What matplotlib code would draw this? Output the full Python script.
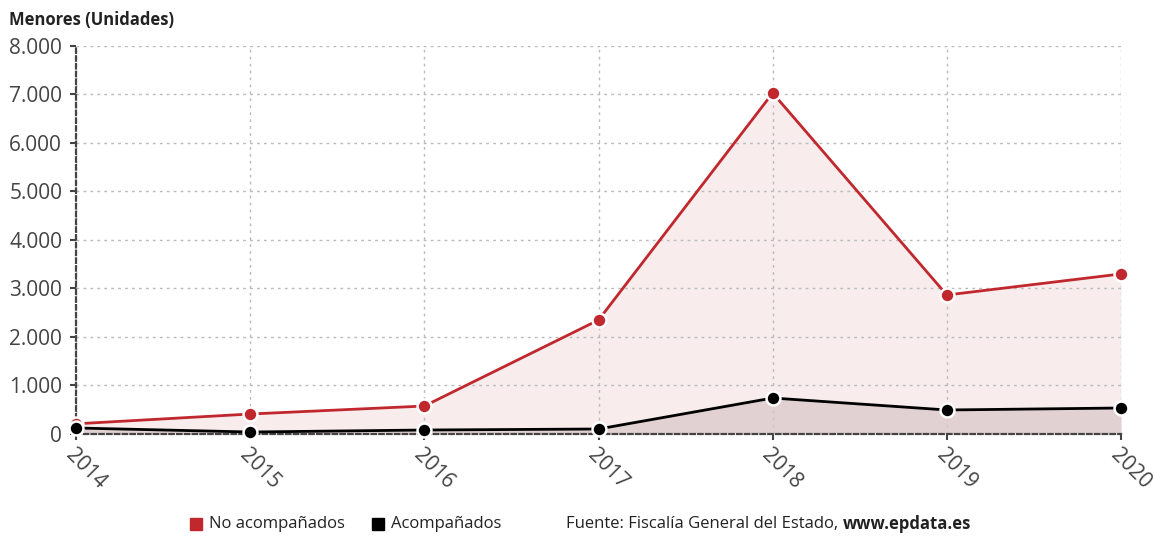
import matplotlib.pyplot as plt
from matplotlib.patches import Rectangle
from matplotlib.ticker import FuncFormatter

plt.rcParams['font.family'] = ['Open Sans', 'DejaVu Sans']

years = [2014, 2015, 2016, 2017, 2018, 2019, 2020]
no_acompanados = [210, 412, 577, 2350, 7030, 2866, 3300]
acompanados = [124, 41, 82, 103, 742, 495, 536]
series_labels = ["No acompañados", "Acompañados"]

RED = "#c0282d"
BLACK = "#000000"
W, H = 1154, 536

fig = plt.figure(figsize=(W / 100, H / 100), dpi=100)
ax = fig.add_axes([0.0659, 0.1903, 0.9055, 0.7239])

# filled areas under each series
ax.fill_between(years, no_acompanados, 0, color="#f6e6e7", alpha=0.75, lw=0, zorder=1)
ax.fill_between(years, acompanados, 0, color="#d9c6c8", alpha=0.7, lw=0, zorder=2)

ax.plot(years, no_acompanados, color=RED, lw=2, marker="o", ms=10,
        mfc=RED, mec="white", mew=1.8, zorder=4, clip_on=False)
ax.plot(years, acompanados, color=BLACK, lw=2, marker="o", ms=10,
        mfc=BLACK, mec="white", mew=1.8, zorder=5, clip_on=False)

ax.set_xlim(2014, 2020)
ax.set_ylim(0, 8000)
ax.set_xticks(years)
ax.set_yticks(range(0, 8001, 1000))
ax.yaxis.set_major_formatter(FuncFormatter(lambda v, p: f"{int(v):,}".replace(",", ".")))

ax.grid(True, color="#bbbbbb", linestyle=(0, (2, 3)), lw=1, zorder=0)
for side in ["top", "right"]:
    ax.spines[side].set_visible(False)
for side in ["left", "bottom"]:
    ax.spines[side].set_color("#444444")
    ax.spines[side].set_linestyle((0, (2, 1.5)))
    ax.spines[side].set_linewidth(1.6)

ax.tick_params(axis="y", labelsize=15, colors="#444444", length=4, width=1.5, pad=6)
ax.tick_params(axis="x", labelsize=15, colors="#444444", length=4, width=1.5, pad=4)
for lbl in ax.get_xticklabels():
    lbl.set_rotation(-45)
    lbl.set_ha("left")
    lbl.set_rotation_mode("anchor")

fig.text(0.008, 0.962, "Menores (Unidades)", fontsize=12, fontweight="bold",
         color="#222222", va="center")

# legend row at the bottom (pixel positions from the reference)
ly = 1 - 524 / H
for x0, col, lab in [(190, RED, series_labels[0]), (372, BLACK, series_labels[1])]:
    fig.patches.append(Rectangle((x0 / W, ly - 6 / H), 12 / W, 12 / H,
                                 transform=fig.transFigure, color=col))
    fig.text((x0 + 19) / W, ly, lab, fontsize=12, color="#222222", va="center")

t = fig.text(566 / W, ly, "Fuente: Fiscalía General del Estado, ", fontsize=12,
             color="#222222", va="center")
fig.canvas.draw()
bb = t.get_window_extent()
fig.text(bb.x1 / fig.bbox.width, ly, "www.epdata.es", fontsize=12,
         fontweight="bold", color="#222222", va="center")

fig.savefig("out.png", dpi=100)
